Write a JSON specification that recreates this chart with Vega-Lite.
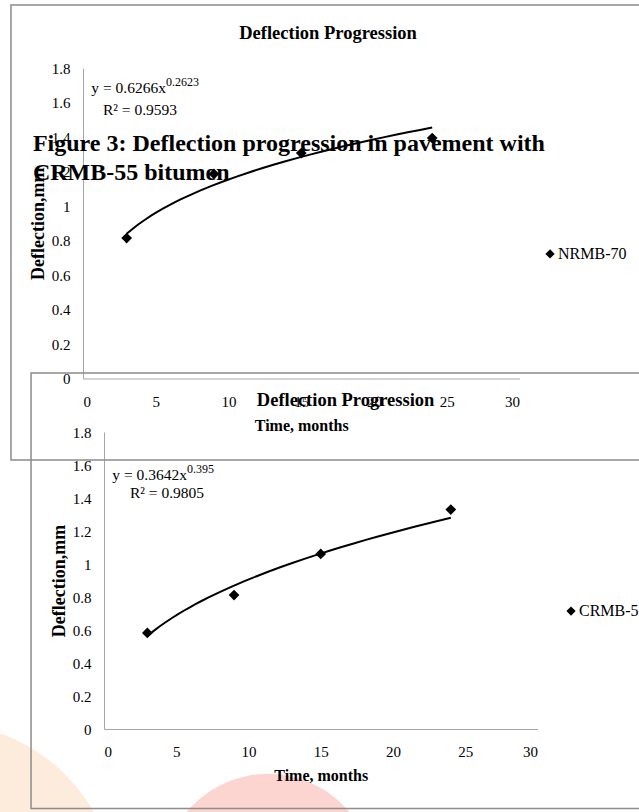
{
  "$schema": "https://vega.github.io/schema/vega-lite/v6.json",
  "width": 639,
  "height": 812,
  "autosize": "none",
  "padding": 0,
  "background": "white",
  "config": {
    "view": {"stroke": null},
    "font": "Liberation Serif",
    "axis": {
      "domainColor": "#a6a6a6",
      "ticks": false,
      "grid": false,
      "labelFont": "Liberation Serif",
      "labelFontSize": 15,
      "labelColor": "black",
      "titleFont": "Liberation Serif",
      "titleFontWeight": "bold",
      "titleColor": "black"
    },
    "axisX": {"labelPadding": 15.5, "titleFontSize": 16, "titlePadding": 8},
    "axisY": {"labelPadding": 13, "titleFontSize": 18, "titlePadding": 4}
  },
  "layer": [
    {
      "data": {
        "values": [
          {"t": 3, "d": 0.814, "series": "NRMB-70"},
          {"t": 9, "d": 1.186, "series": "NRMB-70"},
          {"t": 15, "d": 1.307, "series": "NRMB-70"},
          {"t": 24, "d": 1.394, "series": "NRMB-70"}
        ]
      },
      "layer": [
        {
          "transform": [{"aggregate": [{"op": "count", "as": "n"}]}],
          "mark": {"type": "rect", "fillOpacity": 0, "stroke": "#8c8c8c", "strokeWidth": 1.5},
          "encoding": {
            "x": {"datum": -4.95},
            "x2": {"datum": 45},
            "y": {"datum": 2.165},
            "y2": {"datum": -0.472}
          }
        },
        {
          "transform": [{"regression": "d", "on": "t", "method": "pow"}],
          "mark": {"type": "line", "color": "black", "strokeWidth": 2},
          "encoding": {
            "x": {
              "field": "t",
              "type": "quantitative",
              "scale": {"domain": [0, 30], "range": [83, 519.5], "nice": false, "zero": false},
              "axis": {"orient": "bottom", "offset": -433.5, "values": [0, 5, 10, 15, 20, 25, 30], "title": "Time, months"}
            },
            "y": {
              "field": "d",
              "type": "quantitative",
              "scale": {"domain": [0, 1.8], "range": [378.5, 68], "nice": false, "zero": false},
              "axis": {"orient": "left", "offset": -83, "values": [0, 0.2, 0.4, 0.6, 0.8, 1, 1.2, 1.4, 1.6, 1.8], "format": "~g", "title": "Deflection,mm"}
            }
          }
        },
        {
          "mark": {"type": "point", "shape": "diamond", "filled": true, "color": "black", "size": 115, "opacity": 1},
          "encoding": {
            "x": {"field": "t", "type": "quantitative"},
            "y": {"field": "d", "type": "quantitative"}
          }
        },
        {
          "transform": [{"aggregate": [{"op": "count", "as": "n"}]}],
          "mark": {"type": "point", "shape": "diamond", "filled": true, "color": "black", "size": 85, "opacity": 1},
          "encoding": {"x": {"datum": 32.1}, "y": {"datum": 0.722}}
        },
        {
          "transform": [{"aggregate": [{"op": "count", "as": "n"}]}],
          "mark": {"type": "text", "fontSize": 16, "align": "left", "baseline": "middle", "text": "NRMB-70"},
          "encoding": {"x": {"datum": 32.65}, "y": {"datum": 0.722}}
        },
        {
          "transform": [{"aggregate": [{"op": "count", "as": "n"}]}],
          "mark": {"type": "text", "fontSize": 18.5, "fontWeight": "bold", "align": "center", "baseline": "middle", "text": "Deflection Progression"},
          "encoding": {"x": {"datum": 16.84}, "y": {"datum": 2.003}}
        },
        {
          "transform": [{"aggregate": [{"op": "count", "as": "n"}]}],
          "mark": {"type": "text", "fontSize": 15.5, "align": "right", "baseline": "middle", "text": "y = 0.6266x"},
          "encoding": {"x": {"datum": 5.7}, "y": {"datum": 1.684}}
        },
        {
          "transform": [{"aggregate": [{"op": "count", "as": "n"}]}],
          "mark": {"type": "text", "fontSize": 12, "align": "left", "baseline": "middle", "dy": -6, "text": "0.2623"},
          "encoding": {"x": {"datum": 5.7}, "y": {"datum": 1.684}}
        },
        {
          "transform": [{"aggregate": [{"op": "count", "as": "n"}]}],
          "mark": {"type": "text", "fontSize": 15.5, "align": "left", "baseline": "middle", "text": "R² = 0.9593"},
          "encoding": {"x": {"datum": 1.37}, "y": {"datum": 1.556}}
        },
        {
          "transform": [{"aggregate": [{"op": "count", "as": "n"}]}],
          "mark": {"type": "text", "fontSize": 24, "fontWeight": "bold", "align": "left", "baseline": "alphabetic", "lineHeight": 29, "text": ["Figure 3: Deflection progression in pavement with", "CRMB-55 bitumen"]},
          "encoding": {"x": {"datum": -3.44}, "y": {"datum": 1.319}}
        }
      ]
    },
    {
      "data": {
        "values": [
          {"t": 3, "d": 0.582, "series": "CRMB-55"},
          {"t": 9, "d": 0.812, "series": "CRMB-55"},
          {"t": 15, "d": 1.061, "series": "CRMB-55"},
          {"t": 24, "d": 1.33, "series": "CRMB-55"}
        ]
      },
      "layer": [
        {
          "transform": [{"aggregate": [{"op": "count", "as": "n"}]}],
          "mark": {"type": "point", "shape": "circle", "filled": true, "color": "#fdebdc", "opacity": 1, "size": 125600},
          "encoding": {"x": {"datum": -11.35}, "y": {"datum": -1.036}}
        },
        {
          "transform": [{"aggregate": [{"op": "count", "as": "n"}]}],
          "mark": {"type": "point", "shape": "circle", "filled": true, "color": "#fcd5d0", "opacity": 1, "size": 45000},
          "encoding": {"x": {"datum": 11.35}, "y": {"datum": -0.915}}
        },
        {
          "transform": [{"aggregate": [{"op": "count", "as": "n"}]}],
          "mark": {"type": "rect", "fillOpacity": 0, "stroke": "#8c8c8c", "strokeWidth": 1.5},
          "encoding": {
            "x": {"datum": -5.05},
            "x2": {"datum": 45},
            "y": {"datum": 2.158},
            "y2": {"datum": -0.482}
          }
        },
        {
          "transform": [{"regression": "d", "on": "t", "method": "pow"}],
          "mark": {"type": "line", "color": "black", "strokeWidth": 2},
          "encoding": {
            "x": {
              "field": "t",
              "type": "quantitative",
              "scale": {"domain": [0, 30], "range": [104, 537.5], "nice": false, "zero": false},
              "axis": {"orient": "bottom", "offset": -83, "zindex": 1, "values": [0, 5, 10, 15, 20, 25, 30], "title": "Time, months"}
            },
            "y": {
              "field": "d",
              "type": "quantitative",
              "scale": {"domain": [0, 1.8], "range": [729, 432], "nice": false, "zero": false},
              "axis": {"orient": "left", "offset": -104, "values": [0, 0.2, 0.4, 0.6, 0.8, 1, 1.2, 1.4, 1.6, 1.8], "format": "~g", "title": "Deflection,mm"}
            }
          }
        },
        {
          "mark": {"type": "point", "shape": "diamond", "filled": true, "color": "black", "size": 115, "opacity": 1},
          "encoding": {
            "x": {"field": "t", "type": "quantitative"},
            "y": {"field": "d", "type": "quantitative"}
          }
        },
        {
          "transform": [{"aggregate": [{"op": "count", "as": "n"}]}],
          "mark": {"type": "point", "shape": "diamond", "filled": true, "color": "black", "size": 85, "opacity": 1},
          "encoding": {"x": {"datum": 32.32}, "y": {"datum": 0.715}}
        },
        {
          "transform": [{"aggregate": [{"op": "count", "as": "n"}]}],
          "mark": {"type": "text", "fontSize": 16, "align": "left", "baseline": "middle", "text": "CRMB-55"},
          "encoding": {"x": {"datum": 32.87}, "y": {"datum": 0.715}}
        },
        {
          "transform": [{"aggregate": [{"op": "count", "as": "n"}]}],
          "mark": {"type": "text", "fontSize": 18.5, "fontWeight": "bold", "align": "center", "baseline": "middle", "text": "Deflection Progression"},
          "encoding": {"x": {"datum": 16.72}, "y": {"datum": 1.994}}
        },
        {
          "transform": [{"aggregate": [{"op": "count", "as": "n"}]}],
          "mark": {"type": "text", "fontSize": 15.5, "align": "right", "baseline": "middle", "text": "y = 0.3642x"},
          "encoding": {"x": {"datum": 5.74}, "y": {"datum": 1.539}}
        },
        {
          "transform": [{"aggregate": [{"op": "count", "as": "n"}]}],
          "mark": {"type": "text", "fontSize": 12, "align": "left", "baseline": "middle", "dy": -6, "text": "0.395"},
          "encoding": {"x": {"datum": 5.74}, "y": {"datum": 1.539}}
        },
        {
          "transform": [{"aggregate": [{"op": "count", "as": "n"}]}],
          "mark": {"type": "text", "fontSize": 15.5, "align": "left", "baseline": "middle", "text": "R² = 0.9805"},
          "encoding": {"x": {"datum": 1.8}, "y": {"datum": 1.43}}
        }
      ]
    }
  ],
  "resolve": {
    "scale": {"x": "independent", "y": "independent"},
    "axis": {"x": "independent", "y": "independent"}
  }
}
